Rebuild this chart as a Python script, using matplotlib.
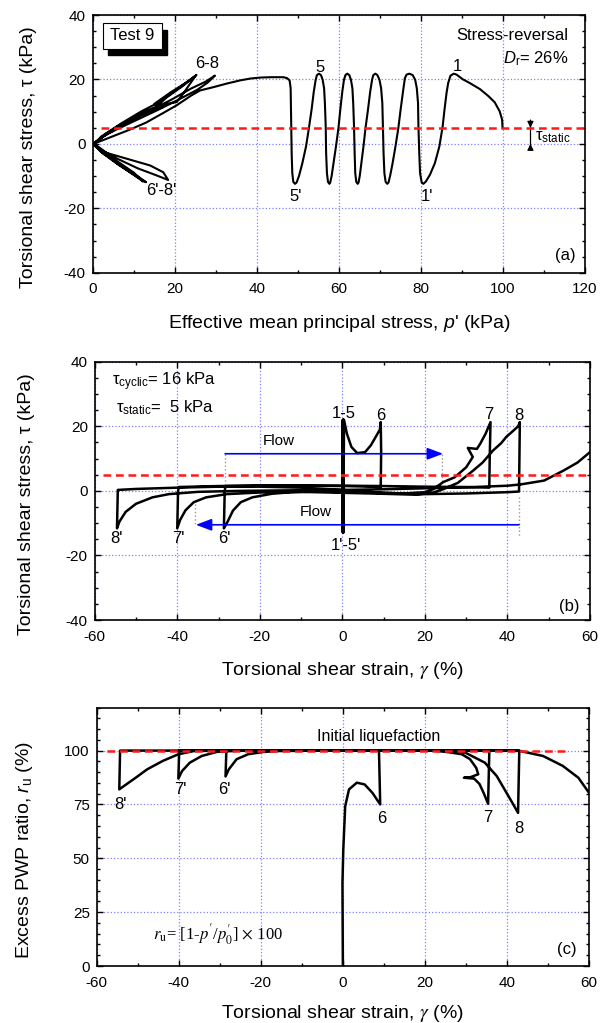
"""Stress path, stress-strain and excess PWP plots for torsional shear Test 9."""

import matplotlib

matplotlib.use("Agg")

import matplotlib.pyplot as plt
from matplotlib.patches import Rectangle
from matplotlib.ticker import MultipleLocator

plt.rcParams["font.family"] = ["Liberation Sans", "DejaVu Sans"]
plt.rcParams["mathtext.fontset"] = "custom"
plt.rcParams["mathtext.rm"] = "Liberation Sans"
plt.rcParams["mathtext.it"] = "Liberation Sans:italic"
plt.rcParams["mathtext.bf"] = "Liberation Sans:bold"
plt.rcParams["axes.unicode_minus"] = False

# ---- (a) effective stress path: p' (kPa) vs tau (kPa) ----
P_A = [
    99.9, 99.8, 99.2, 98.0, 96.4, 94.4, 91.9, 90.15, 88.7, 88.0,
    87.2, 86.65, 86.25, 85.75, 85.3, 84.5, 83.4, 82.2, 81.2, 80.6,
    80.2, 79.8, 79.6, 79.4, 79.3, 79.0, 78.6, 78.0, 77.2, 76.5,
    76.1, 75.7, 75.05, 74.5, 73.8, 73.1, 72.5, 72.1, 71.8,
    71.4, 71.1, 70.9, 70.75, 70.6, 70.3, 69.9, 69.4, 68.9, 68.4,
    68.1, 67.65, 67.1, 66.5, 66.0, 65.5, 65.1, 64.8, 64.6,
    64.25, 64.0, 63.85, 63.7, 63.5, 63.3, 62.95, 62.55, 62.05, 61.6,
    61.25, 60.85, 60.35, 59.9, 59.3, 58.7, 58.25, 57.9, 57.7,
    57.35, 57.1, 56.9, 56.8, 56.6, 56.4, 56.05, 55.65, 55.15, 54.65,
    54.35, 53.9, 53.35, 52.7, 52.0, 51.1, 50.3, 49.7, 49.3,
    48.9, 48.65, 48.5, 48.4, 48.3, 48.25, 48.0, 47.4, 46.5, 45.65,
    43.5, 41.0, 38.5, 35.9, 32.6, 29.4, 26.2,
    24.0, 20.5, 17.2, 13.0, 9.0, 5.0, 2.0, 0.3,
    3.4, 9.1, 14.0, 17.2, 18.4, 15.6, 11.0, 6.0, 2.0, 0.3,
    2.0, 6.0, 11.0, 16.0, 21.0, 25.5, 28.0, 29.8, 27.5, 24.0, 19.0, 14.0, 8.0, 3.0, 0.3,
    2.0, 6.0, 10.0, 12.3, 10.0, 6.0, 2.5, 0.3,
    2.0, 7.0, 12.0, 16.0, 20.0, 25.3, 22.0, 18.0, 15.6, 12.0, 6.0, 1.5, 0.3,
    2.0, 6.0, 10.0, 13.0, 10.5, 6.5, 2.5, 0.3,
    3.0, 8.0, 13.0, 18.0, 20.5, 22.0, 25.0, 23.0, 19.0, 15.0, 17.0, 12.0, 6.0, 1.0, 0.2,
]
TAU_A = [
    4.9, 7.5, 10.1, 12.9, 14.9, 17.0, 18.9, 20.1, 21.5, 21.8,
    21.15, 18.9, 15.8, 10.6, 5.4, -0.8, -6.0, -9.6, -11.7, -12.4,
    -12.0, -9.1, -2.9, 5.4, 12.65, 17.3, 19.9, 21.35, 21.8, 21.5,
    20.4, 16.8, 10.6, 4.9, -0.8, -6.0, -9.9, -12.0, -12.4,
    -11.8, -9.1, -2.9, 5.4, 12.65, 17.3, 19.9, 21.35, 21.8, 21.35,
    19.9, 16.3, 10.6, 4.9, -0.8, -6.0, -9.9, -12.0, -12.4,
    -11.8, -9.1, -2.9, 5.4, 12.65, 17.3, 19.9, 21.35, 21.8, 21.35,
    19.9, 16.3, 10.6, 4.9, -0.8, -6.0, -9.9, -12.0, -12.4,
    -11.8, -9.1, -2.9, 5.4, 12.65, 17.3, 19.9, 21.35, 21.8, 21.35,
    19.9, 16.3, 10.6, 4.9, -0.8, -6.0, -9.9, -12.0, -12.4,
    -11.8, -9.1, -2.9, 5.4, 12.65, 17.3, 19.7, 20.4, 20.7, 20.7,
    20.7, 20.6, 20.3, 19.7, 18.7, 17.6, 16.6,
    15.0, 12.0, 9.6, 6.6, 4.4, 2.4, 0.9, 0.1,
    -2.8, -4.9, -6.7, -8.8, -11.2, -9.8, -7.6, -4.6, -1.8, -0.2,
    2.0, 4.6, 7.6, 10.6, 13.8, 16.8, 19.0, 21.2, 19.3, 17.2, 13.6, 10.4, 6.4, 2.6, 0.2,
    -2.2, -5.4, -8.9, -11.7, -9.6, -6.2, -2.8, -0.3,
    2.2, 6.4, 10.2, 12.8, 16.4, 21.4, 18.0, 14.4, 11.6, 9.6, 5.4, 1.4, 0.2,
    -2.4, -5.8, -9.2, -11.9, -10.0, -6.6, -3.0, -0.3,
    3.0, 6.8, 10.0, 12.4, 13.0, 15.5, 21.0, 19.2, 16.0, 12.4, 11.4, 9.0, 5.2, 0.9, 0.1,
]

# ---- (b) stress-strain: gamma (%) vs tau (kPa) ----
GAMMA_B = [
    0.0, 0.1, 0.0, 0.2, 0.1, 0.2, 0.1, 0.3, 0.2, 0.3, 0.2, 0.3, 0.4,
    1.1, 2.2, 3.6, 5.5, 6.9, 8.3, 9.1, 9.3,
    9.4, 9.3,
    5.0, 0.0, -10.0, -20.0, -28.3,
    -28.5, -28.7,
    -27.9, -26.5, -24.6, -21.8, -17.1, -12.4,
    -5.0, 5.0, 15.0, 20.0, 22.0,
    24.4, 27.2, 30.0, 31.6, 30.4, 32.6, 33.4, 34.7, 35.9,
    35.7, 35.6,
    30.0, 20.0, 10.0, 0.0, -20.0, -30.0, -39.6,
    -39.8, -40.0,
    -39.3, -38.0, -36.0, -33.0, -28.0, -20.0, -10.0,
    0.0, 10.0, 18.0, 22.0, 24.0,
    28.0, 31.7, 34.0, 36.5, 38.5, 39.7, 41.3, 42.6, 43.0,
    42.9, 42.8,
    40.0, 30.0, 20.0, 10.0, 0.0, -10.0, -20.0, -30.0, -40.0, -50.0, -54.4,
    -54.6,
    -54.0, -52.5, -50.0, -46.0, -42.0, -35.0, -25.0,
    -10.0, 0.0, 10.0, 20.0, 30.0, 40.0, 43.2,
    48.9, 53.6, 57.0, 60.0,
]
TAU_B = [
    5.0, 22.0, -12.5, 22.0, -12.6, 22.0, -12.7, 22.0, -12.8, 22.0, -13.0, 0.0, 22.0,
    17.7, 13.6, 11.7, 12.0, 14.1, 17.2, 19.0, 21.3,
    12.0, 1.2,
    1.4, 1.5, 1.6, 1.6, 1.5,
    0.0, -11.6,
    -9.8, -6.1, -3.5, -2.0, -0.9, -0.4,
    -0.2, -0.5, -0.8, -0.4, 0.5,
    2.7, 4.2, 7.3, 10.5, 13.3, 13.0, 14.6, 17.7, 21.3,
    10.0, 1.0,
    1.2, 1.3, 1.5, 1.6, 1.6, 1.5, 1.2,
    0.0, -11.6,
    -9.0, -6.0, -3.5, -2.0, -1.0, -0.5, -0.3,
    -0.6, -0.9, -1.2, -0.5, 0.3,
    2.5, 6.3, 8.8, 12.5, 14.8, 16.7, 18.5, 20.0, 21.3,
    10.0, -0.2,
    -0.4, -0.8, -1.0, -0.6, 0.3, 1.0, 1.3, 1.3, 1.0, 0.6, 0.3,
    -11.6,
    -9.5, -6.5, -4.0, -2.0, -1.0, -0.3, 0.0,
    0.2, 0.3, 0.5, 0.8, 1.1, 1.6, 2.0,
    3.2, 6.3, 8.8, 12.0,
]

# ---- (c) excess pore water pressure ratio: gamma (%) vs r_u (%) ----
GAMMA_C = [
    0.0, -0.1, 0.1, 0.57, 1.5, 3.4, 5.3, 7.2, 9.1, 8.8,
    -28.4, -28.6,
    -27.8, -25.9, -23.1, -19.3, -15.5, -5.0, 22.0,
    26.0, 29.0, 31.0, 32.5, 33.0, 31.0, 29.5, 32.0, 33.3, 34.3, 35.4, 35.7,
    -39.9, -40.1,
    -39.2, -37.3, -34.4, -30.7, -25.0, 24.0,
    26.0, 29.9, 34.6, 37.5, 39.4, 41.3, 42.7, 43.0,
    -54.3, -54.5,
    -53.4, -50.5, -47.7, -43.9, -40.1, -36.3, -30.0, 40.0,
    43.2, 48.8, 53.6, 57.4, 60.0,
]
RU_C = [
    0.0, 38.5, 54.0, 74.2, 82.0, 85.1, 84.3, 80.4, 75.0, 100.0,
    100.0, 88.0,
    91.3, 96.0, 98.3, 99.4, 99.8, 100.0, 100.0,
    99.2, 98.3, 96.0, 92.0, 89.0, 87.6, 87.4, 87.0, 84.5, 80.4, 75.3, 100.0,
    100.0, 87.0,
    90.5, 94.4, 97.5, 99.4, 100.0, 100.0,
    99.8, 99.0, 94.4, 88.2, 82.0, 75.8, 71.1, 100.0,
    100.0, 82.0,
    83.5, 87.4, 91.3, 95.2, 98.3, 99.8, 100.0, 100.0,
    99.8, 97.5, 92.9, 87.4, 80.4,
]

TAU_STATIC = 5.0
RU_LIQUEFACTION = 100.0

LABEL_SIZE = 14
TEXT_SIZE = 12
GRID_COLOR = "#8080ff"
RED = "#ff1a1a"
RED_DASH = (0, (3.1, 1.9))


def _style_axes(ax, xlim, ylim, xmajor, xminor, ymajor, yminor):
    """Origin-like frame: ticks inside on all four sides, dotted blue grid."""

    ax.set_xlim(*xlim)
    ax.set_ylim(*ylim)
    ax.xaxis.set_major_locator(MultipleLocator(xmajor))
    ax.xaxis.set_minor_locator(MultipleLocator(xminor))
    ax.yaxis.set_major_locator(MultipleLocator(ymajor))
    ax.yaxis.set_minor_locator(MultipleLocator(yminor))
    ax.tick_params(which="both", direction="in", top=True, right=True, labelsize=11, width=1.0)
    ax.tick_params(which="major", length=4.5)
    ax.tick_params(which="minor", length=2.5)
    ax.tick_params(axis="x", pad=7)
    ax.tick_params(axis="y", pad=5)
    for spine in ax.spines.values():
        spine.set_linewidth(1.2)
    ax.grid(True, which="major", color=GRID_COLOR, linestyle=":", linewidth=0.9)


def plot_stress_path(ax):
    ax.plot(P_A, TAU_A, color="black", linewidth=1.5, zorder=2)
    ax.plot([2.0, 120.0], [TAU_STATIC, TAU_STATIC], color=RED, linestyle=RED_DASH, linewidth=1.8, zorder=3)
    _style_axes(ax, (0, 120), (-40, 40), 20, 10, 20, 5)
    ax.set_xlabel("Effective mean principal stress, $p$' (kPa)", fontsize=LABEL_SIZE)
    ax.set_ylabel("Torsional shear stress, τ (kPa)", fontsize=LABEL_SIZE)
    ax.xaxis.set_label_coords(0.5, -0.155)
    ax.yaxis.set_label_coords(-0.113, 0.45)

    # "Test 9" box with a drop shadow
    ax.add_patch(Rectangle((3.8, 27.7), 14.4, 7.8, facecolor="black", edgecolor="black", zorder=4))
    ax.add_patch(Rectangle((2.4, 29.6), 14.4, 7.8, facecolor="white", edgecolor="black", linewidth=0.8, zorder=5))
    ax.text(9.6, 33.5, "Test 9", ha="center", va="center", fontsize=TEXT_SIZE, zorder=6)

    ax.text(115.9, 33.8, "Stress-reversal", ha="right", va="center", fontsize=TEXT_SIZE)
    ax.text(115.9, 26.6, r"$D_{\rm r}$= 26%", ha="right", va="center", fontsize=TEXT_SIZE)
    for text, x, y in [("6-8", 27.8, 24.9), ("5", 55.4, 23.8), ("1", 88.8, 24.0),
                       ("5'", 49.5, -16.2), ("1'", 81.4, -16.2), ("6'-8'", 16.8, -14.5)]:
        ax.text(x, y, text, ha="center", va="center", fontsize=TEXT_SIZE)
    ax.text(115.1, -34.7, "(a)", ha="center", va="center", fontsize=TEXT_SIZE)

    # tau_static dimension marker
    ax.plot([106.7, 106.7], [7.2, -1.6], color="black", linewidth=0.9)
    arrow = dict(arrowstyle="-|>", color="black", lw=0.9, mutation_scale=9, shrinkA=0, shrinkB=0)
    ax.annotate("", xy=(106.7, TAU_STATIC), xytext=(106.7, 7.4), arrowprops=arrow)
    ax.annotate("", xy=(106.7, 0.0), xytext=(106.7, -1.8), arrowprops=arrow)
    ax.text(107.9, 2.0, r"τ$_{\rm static}$", ha="left", va="center", fontsize=TEXT_SIZE)


def plot_stress_strain(ax):
    ax.plot(GAMMA_B, TAU_B, color="black", linewidth=1.8, zorder=2)
    ax.plot([-58.0, 60.0], [TAU_STATIC, TAU_STATIC], color=RED, linestyle=RED_DASH, linewidth=1.8, zorder=3)
    _style_axes(ax, (-60, 60), (-40, 40), 20, 10, 20, 5)
    ax.set_xlabel(r"Torsional shear strain, $\gamma$ (%)", fontsize=LABEL_SIZE, math_fontfamily="stix")
    ax.set_ylabel("Torsional shear stress, τ (kPa)", fontsize=LABEL_SIZE)
    ax.xaxis.set_label_coords(0.5, -0.155)
    ax.yaxis.set_label_coords(-0.12, 0.45)

    ax.text(-55.8, 33.8, r"τ$_{\rm cyclic}$= 16 kPa", ha="left", va="center", fontsize=TEXT_SIZE)
    ax.text(-54.8, 25.8, r"τ$_{\rm static}$=  5 kPa", ha="left", va="center", fontsize=TEXT_SIZE)
    for text, x, y in [("1-5", 0.3, 23.9), ("6", 9.3, 23.4), ("7", 35.5, 23.6), ("8", 42.8, 23.4),
                       ("8'", -54.8, -14.9), ("7'", -39.7, -14.9), ("6'", -28.6, -14.9),
                       ("1'-5'", 0.8, -17.0)]:
        ax.text(x, y, text, ha="center", va="center", fontsize=TEXT_SIZE)
    ax.text(55.0, -35.7, "(b)", ha="center", va="center", fontsize=TEXT_SIZE)

    # flow arrows with dotted guides
    guide = dict(color="0.6", linestyle=":", linewidth=1.0, zorder=1.8)
    ax.plot([-28.4, -28.4], [11.5, 1.5], **guide)
    ax.plot([24.2, 24.2], [11.5, 2.7], **guide)
    ax.plot([42.8, 42.8], [-2.0, -14.0], **guide)
    ax.plot([-35.7, -35.7], [-4.0, -10.5], **guide)
    flow = dict(arrowstyle="-|>,head_length=0.8,head_width=0.3", color="#0000ff", lw=1.2,
                mutation_scale=12, shrinkA=0, shrinkB=0)
    ax.annotate("", xy=(24.4, 11.5), xytext=(-28.4, 11.5), arrowprops=flow, zorder=4)
    ax.annotate("", xy=(-35.5, -10.5), xytext=(42.8, -10.5), arrowprops=flow, zorder=4)
    ax.text(-15.4, 15.4, "Flow", ha="center", va="center", fontsize=11)
    ax.text(-6.5, -6.6, "Flow", ha="center", va="center", fontsize=11)


def plot_pore_pressure(ax):
    ax.plot(GAMMA_C, RU_C, color="black", linewidth=1.8, zorder=2)
    ax.plot([-57.6, 54.5], [RU_LIQUEFACTION, RU_LIQUEFACTION], color=RED, linestyle=RED_DASH,
            linewidth=1.8, zorder=3)
    _style_axes(ax, (-60, 60), (0, 120), 20, 10, 25, 5)
    ax.set_yticks([0, 25, 50, 75, 100])
    ax.set_xlabel(r"Torsional shear strain, $\gamma$ (%)", fontsize=LABEL_SIZE, math_fontfamily="stix")
    ax.set_ylabel(r"Excess PWP ratio, $r_{\rm u}$ (%)", fontsize=LABEL_SIZE)
    ax.xaxis.set_label_coords(0.5, -0.143)
    ax.yaxis.set_label_coords(-0.125, 0.45)

    ax.text(8.6, 106.5, "Initial liquefaction", ha="center", va="center", fontsize=11.5)
    for text, x, y in [("8'", -54.1, 75.0), ("7'", -39.7, 82.0), ("6'", -28.8, 82.0),
                       ("6", 9.4, 68.5), ("7", 35.4, 68.8), ("8", 43.0, 63.7)]:
        ax.text(x, y, text, ha="center", va="center", fontsize=TEXT_SIZE)
    ax.text(-46.3, 14.5, r"$r_{\rm u}$= [1-$p'$/$p_{0}^{\prime}$] $\times$ 100", ha="left", va="center",
            fontsize=12, family=["Liberation Serif", "DejaVu Serif"], math_fontfamily="stix")
    ax.text(54.7, 7.5, "(c)", ha="center", va="center", fontsize=TEXT_SIZE)


def main():
    fig = plt.figure(figsize=(6.09, 10.23), dpi=100)
    ax_a = fig.add_axes([0.1522, 0.7334, 0.8084, 0.2519])
    ax_b = fig.add_axes([0.1555, 0.3939, 0.8133, 0.2525])
    ax_c = fig.add_axes([0.1588, 0.0557, 0.8084, 0.2527])
    plot_stress_path(ax_a)
    plot_stress_strain(ax_b)
    plot_pore_pressure(ax_c)
    fig.savefig("out.png", dpi=100)
    plt.close(fig)


if __name__ == "__main__":
    main()
